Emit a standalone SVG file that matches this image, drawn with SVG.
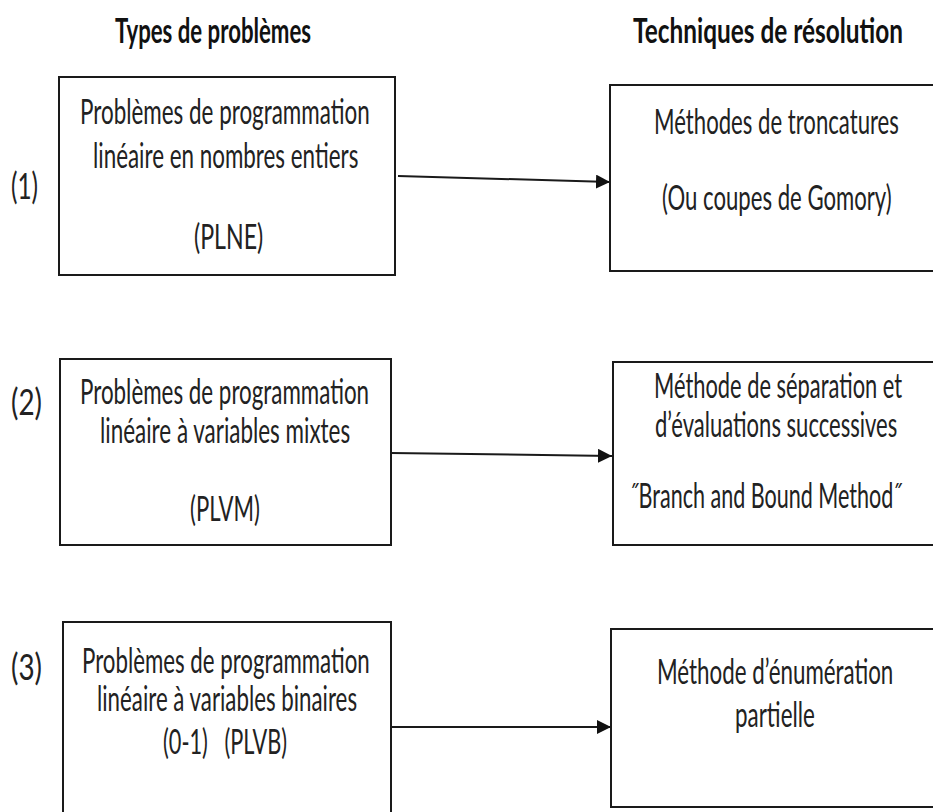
<svg xmlns="http://www.w3.org/2000/svg" width="933" height="812" viewBox="0 0 933 812">
<defs>
<marker id="arr" markerWidth="14" markerHeight="14" refX="14" refY="7" orient="auto" markerUnits="userSpaceOnUse">
<path d="M0,0 L14,7 L0,14 Z" fill="#111"/>
</marker>
</defs>
<style>
.box{fill:#fff;stroke:#1a1a1a;stroke-width:2}
.t{font-family:Lato,"Open Sans","Liberation Sans",sans-serif;font-size:34px;fill:#222}
.n{font-family:Lato,"Open Sans","Liberation Sans",sans-serif;font-size:36px;fill:#222}
.h{font-family:Lato,"Open Sans","Liberation Sans",sans-serif;font-size:34px;font-weight:bold;fill:#111}
.c{stroke:#1a1a1a;stroke-width:2;fill:none;marker-end:url(#arr)}
</style>
<rect width="933" height="812" fill="#fff"/>
<g id="headers">
<text class="h" transform="translate(115,43) scale(0.66,1)" textLength="297" lengthAdjust="spacingAndGlyphs">Types de problèmes</text>
<text class="h" transform="translate(633,43) scale(0.66,1)" textLength="409" lengthAdjust="spacingAndGlyphs">Techniques de résolution</text>
</g>
<g id="labels">
<text class="n" transform="translate(11,199) scale(0.66,1)" textLength="41" lengthAdjust="spacingAndGlyphs">(1)</text>
<text class="n" transform="translate(11,415) scale(0.66,1)" textLength="47" lengthAdjust="spacingAndGlyphs">(2)</text>
<text class="n" transform="translate(11,680) scale(0.66,1)" textLength="47" lengthAdjust="spacingAndGlyphs">(3)</text>
</g>
<g id="connectors">
<line class="c" x1="398" y1="176" x2="610" y2="182"/>
<line class="c" x1="391" y1="453" x2="612" y2="456"/>
<line class="c" x1="390" y1="727" x2="611" y2="727"/>
</g>
<g id="plne">
<rect class="box" x="59" y="77" width="336" height="198"/>
<text class="t" transform="translate(80,124) scale(0.66,1)" textLength="439" lengthAdjust="spacingAndGlyphs">Problèmes de programmation</text>
<text class="t" transform="translate(93,168) scale(0.66,1)" textLength="402" lengthAdjust="spacingAndGlyphs">linéaire en nombres entiers</text>
<text class="t" transform="translate(194,249) scale(0.66,1)" textLength="105" lengthAdjust="spacingAndGlyphs">(PLNE)</text>
</g>
<g id="troncatures">
<rect class="box" x="610" y="85" width="330" height="186"/>
<text class="t" transform="translate(654,134) scale(0.66,1)" textLength="371" lengthAdjust="spacingAndGlyphs">Méthodes de troncatures</text>
<text class="t" transform="translate(662,210) scale(0.66,1)" textLength="348" lengthAdjust="spacingAndGlyphs">(Ou coupes de Gomory)</text>
</g>
<g id="plvm">
<rect class="box" x="60" y="359" width="331" height="186"/>
<text class="t" transform="translate(80,404) scale(0.66,1)" textLength="438" lengthAdjust="spacingAndGlyphs">Problèmes de programmation</text>
<text class="t" transform="translate(100,443) scale(0.66,1)" textLength="379" lengthAdjust="spacingAndGlyphs">linéaire à variables mixtes</text>
<text class="t" transform="translate(190,521) scale(0.66,1)" textLength="106" lengthAdjust="spacingAndGlyphs">(PLVM)</text>
</g>
<g id="branch">
<rect class="box" x="613" y="362" width="327" height="183"/>
<text class="t" transform="translate(654,398) scale(0.66,1)" textLength="376" lengthAdjust="spacingAndGlyphs">Méthode de séparation et</text>
<text class="t" transform="translate(655,437) scale(0.66,1)" textLength="367" lengthAdjust="spacingAndGlyphs">d’évaluations successives</text>
<text class="t" transform="translate(630,508) scale(0.66,1)" textLength="412" lengthAdjust="spacingAndGlyphs">˝Branch and Bound Method˝</text>
</g>
<g id="plvb">
<rect class="box" x="63" y="622" width="328" height="200"/>
<text class="t" transform="translate(82,673) scale(0.66,1)" textLength="436" lengthAdjust="spacingAndGlyphs">Problèmes de programmation</text>
<text class="t" transform="translate(97,711) scale(0.66,1)" textLength="394" lengthAdjust="spacingAndGlyphs">linéaire à variables binaires</text>
<text class="t" transform="translate(163,754) scale(0.66,1)" textLength="188" lengthAdjust="spacingAndGlyphs" xml:space="preserve">(0-1)   (PLVB)</text>
</g>
<g id="enumeration">
<rect class="box" x="611" y="629" width="329" height="178"/>
<text class="t" transform="translate(657,684) scale(0.66,1)" textLength="358" lengthAdjust="spacingAndGlyphs">Méthode d’énumération</text>
<text class="t" transform="translate(735,727) scale(0.66,1)" textLength="121" lengthAdjust="spacingAndGlyphs">partielle</text>
</g>
</svg>
